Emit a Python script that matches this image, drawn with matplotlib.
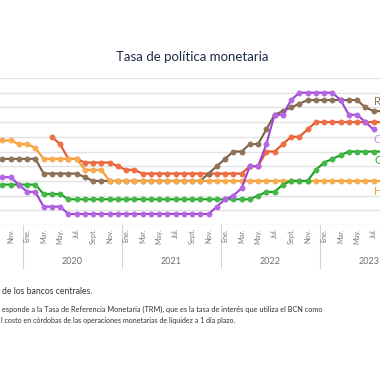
import numpy as np
import pandas as pd
import matplotlib
matplotlib.use('Agg')
import matplotlib.pyplot as plt

plt.rcParams['font.family'] = ['Lato', 'DejaVu Sans']

nan = np.nan

# meses de oct-2019 a ago-2023
meses = pd.period_range('2019-10', '2023-08', freq='M')

# tasas (%)
costa_rica = [3.25, 3.25, 2.75,
              2.25, 2.25, 1.25, 1.25, 1.25, 0.75, 0.75, 0.75, 0.75, 0.75, 0.75, 0.75,
              0.75, 0.75, 0.75, 0.75, 0.75, 0.75, 0.75, 0.75, 0.75, 0.75, 0.75, 1.25,
              1.75, 2.0, 2.5, 4.0, 4.0, 5.5, 7.5, 7.5, 8.5, 9.0, 9.0, 9.0,
              9.0, 9.0, 8.5, 7.5, 7.5, 7.0, 6.5, nan]
rep_dominicana = [4.5, 4.5, 4.5,
                  4.5, 4.5, 3.5, 3.5, 3.5, 3.5, 3.5, 3.25, 3.0, 3.0, 3.0, 3.0,
                  3.0, 3.0, 3.0, 3.0, 3.0, 3.0, 3.0, 3.0, 3.0, 3.0, 3.5, 4.0,
                  4.5, 5.0, 5.0, 5.5, 5.5, 6.5, 7.5, 7.75, 8.0, 8.25, 8.5, 8.5,
                  8.5, 8.5, 8.5, 8.5, 8.5, 8.0, 7.75, 7.75]
nicaragua = [nan, nan, nan,
             nan, nan, nan, 6.0, 5.5, 4.5, 4.5, 4.25, 4.25, 4.25, 4.25, 4.0,
             3.75, 3.75, 3.5, 3.5, 3.5, 3.5, 3.5, 3.5, 3.5, 3.5, 3.5, 3.5,
             3.5, 3.5, 3.5, 4.0, 4.0, 5.0, 5.0, 5.5, 6.0, 6.0, 6.5, 7.0,
             7.0, 7.0, 7.0, 7.0, 7.0, 7.0, 7.0, 7.0]
guatemala = [2.75, 2.75, 2.75,
             2.75, 2.75, 2.1, 2.1, 2.1, 1.75, 1.75, 1.75, 1.75, 1.75, 1.75, 1.75,
             1.75, 1.75, 1.75, 1.75, 1.75, 1.75, 1.75, 1.75, 1.75, 1.75, 1.75, 1.75,
             1.75, 1.75, 1.75, 1.75, 2.0, 2.25, 2.25, 2.75, 3.0, 3.0, 3.0, 3.75,
             4.25, 4.5, 4.75, 5.0, 5.0, 5.0, 5.0, 5.0]
honduras = [5.75, 5.75, 5.5,
            5.5, 5.25, 4.5, 4.5, 4.5, 4.5, 4.5, 3.75, 3.75, 3.75, 3.0, 3.0,
            3.0, 3.0, 3.0, 3.0, 3.0, 3.0, 3.0, 3.0, 3.0, 3.0, 3.0, 3.0,
            3.0, 3.0, 3.0, 3.0, 3.0, 3.0, 3.0, 3.0, 3.0, 3.0, 3.0, 3.0,
            3.0, 3.0, 3.0, 3.0, 3.0, 3.0, 3.0, 3.0]

nombres_mes = {1: 'Ene.', 3: 'Mar.', 5: 'May.', 7: 'Jul.', 9: 'Sept.', 11: 'Nov.'}
anios = [2020, 2021, 2022, 2023]

# etiquetas al final de cada serie: (texto, nivel, color)
etiquetas = [('R. Dominicana', 8.4, '#8a7762'),
             ('Costa Rica', 5.8, '#c395e3'),
             ('Guatemala', 4.4, '#3aa83a'),
             ('Honduras', 2.3, '#f5a045')]

x = (meses.year - 2020) * 12 + meses.month - 1

fig = plt.figure(figsize=(3.8, 3.8), dpi=100)
fig.patch.set_facecolor('white')
fig.text(0.505, 1 - 57 / 380, 'Tasa de política monetaria', ha='center', va='center',
         fontsize=9.5, color='#1f2c48')

ax = fig.add_axes([0, 155 / 380, 1, 147 / 380])

series = [(nicaragua, '#e4542a', '#ee6d42'),
          (rep_dominicana, '#7a5f46', '#8e7358'),
          (honduras, '#f69a2e', '#f9ab50'),
          (guatemala, '#1f9a24', '#40b843'),
          (costa_rica, '#9d45d2', '#b565e3')]
for valores, color, relleno in series:
    ax.plot(x, valores, color=color, lw=1.5, marker='o', ms=3.8,
            mfc=relleno, mec=relleno, mew=0.4, clip_on=False)

for texto, nivel, color in etiquetas:
    ax.text(42.1, nivel, texto, color=color, fontsize=8, ha='left', va='center')

ax.set_xlim(-3.285, 42.78)
ax.set_ylim(0, 10)
ax.set_yticks(range(0, 11))
ax.yaxis.grid(True, color='#e2e2e2', lw=1)
ax.set_axisbelow(True)
ax.set_xticks([])
ax.tick_params(left=False, labelleft=False)
for s in ax.spines.values():
    s.set_visible(False)

trans = ax.get_xaxis_transform()
for m, p in zip(x, meses):
    if p.month in nombres_mes:
        ax.text(m, -0.02, nombres_mes[p.month], transform=trans, rotation=90,
                ha='center', va='top', fontsize=5.2, color='#7a7a7a')

for i, anio in enumerate(anios):
    inicio = i * 12 - 0.5
    ax.plot([inicio, inicio], [0, -0.29], transform=trans, color='#d5d5d5', lw=0.8,
            clip_on=False)
    ax.text(i * 12 + 5.5, -0.25, str(anio), transform=trans, ha='center', va='center',
            fontsize=6.5, color='#6f6f6f')

fig.text(0.004, 1 - 291 / 380, 'de los bancos centrales.', ha='left', va='center',
         fontsize=6.2, color='#333333')
fig.text(0.004, 1 - 309 / 380,
         'esponde a la Tasa de Referencia Monetaria (TRM), que es la tasa de interés que utiliza el BCN como',
         ha='left', va='center', fontsize=5.3, color='#333333')
fig.text(0.002, 1 - 321 / 380,
         'l costo en córdobas de las operaciones monetarias de liquidez a 1 día plazo.',
         ha='left', va='center', fontsize=5.1, color='#333333')

fig.savefig('out.png', dpi=100)
